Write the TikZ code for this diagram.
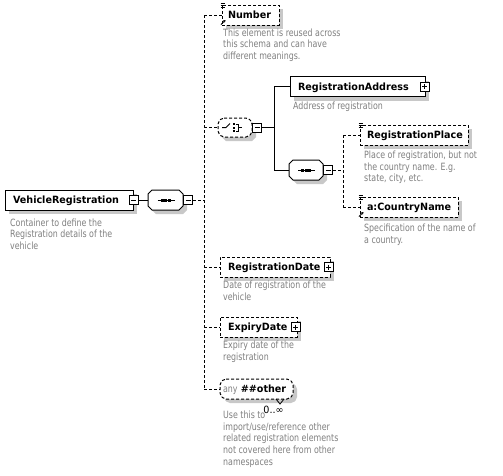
\documentclass[tikz,border=0pt]{standalone}
\usepackage{fontspec}
\usetikzlibrary{calc,shadows,arrows.meta,backgrounds}
\newfontfamily\descfont[FakeStretch=0.79]{DejaVu Sans}
\newfontfamily\namefont[FakeStretch=0.96]{DejaVu Sans}
\definecolor{shadowgray}{RGB}{200,200,200}
\definecolor{notegray}{RGB}{128,128,128}

% octagon outline around a placeholder node: #1 node, #2 corner cut, #3 offset
\newcommand\octagonpath[3]{($(#1.north west)+(#2,0)+(#3)$) -- ($(#1.north east)+(-#2,0)+(#3)$) -- ($(#1.north east)+(0,#2)+(#3)$) -- ($(#1.south east)+(0,-#2)+(#3)$) -- ($(#1.south east)+(-#2,0)+(#3)$) -- ($(#1.south west)+(#2,0)+(#3)$) -- ($(#1.south west)+(0,-#2)+(#3)$) -- ($(#1.north west)+(0,#2)+(#3)$) -- cycle}

% "global element" marks at the corners of a box
\newcommand\listmark[1]{\foreach \k in {0,1,2} \draw[line width=0.8pt] ($(#1.north west)+(-1,-1.5+2.3*\k)$) -- ++(4.5,0);}
\newcommand\refmark[1]{\draw[line width=0.8pt, -{Stealth[length=2.5pt,width=3pt]}] ($(#1.south west)+(-0.5,-1)$) -- ++(4.5,-4.5);}

% compositor icons
\newcommand\seqicon[1]{%
  \draw[line width=1pt] ($(#1.center)+(-8,0)$) -- ($(#1.center)+(9,0)$);
  \foreach \d in {-3.5,0,3.5} \fill ($(#1.center)+(\d-1.5,-1.5)$) rectangle ++(3,3);}
\newcommand\choiceicon[1]{%
  \draw[line width=1pt] ($(#1.center)+(-13,0)$) -- ($(#1.center)+(-9,0)$) -- ($(#1.center)+(-5,-4)$);
  \foreach \d in {-3.5,0,3.5} \fill ($(#1.center)+(-2,\d-1)$) rectangle ++(2,2);
  \draw[line width=1pt] ($(#1.center)+(0.5,-3.5)$) -- ($(#1.center)+(3,-3.5)$) -- ($(#1.center)+(3,3.5)$) -- ($(#1.center)+(0.5,3.5)$);
  \draw[line width=1pt] ($(#1.center)+(3,0)$) -- ($(#1.center)+(7,0)$);}

\tikzset{
  wire/.style={line width=1pt},
  dwire/.style={wire, dash pattern=on 3pt off 2pt},
  elem/.style={rectangle, draw, line width=1pt, fill=white, minimum height=20pt,
    inner ysep=0pt, inner xsep=8pt, align=left, text height=8pt, text depth=1pt,
    font={\namefont\bfseries\fontsize{10}{12}\selectfont},
    drop shadow={shadow xshift=4pt, shadow yshift=-4pt, opacity=1, fill=shadowgray}},
  optelem/.style={elem, dash pattern=on 3pt off 2pt},
  slot/.style={rectangle, inner sep=0pt, outer sep=0pt},
  btn/.style={rectangle, draw, line width=1pt, fill=white, minimum size=9pt, inner sep=0pt},
  minusbtn/.style={btn, path picture={\draw[line width=1pt] ($(path picture bounding box.center)+(-2.5,0)$) -- ($(path picture bounding box.center)+(2.5,0)$);}},
  plusbtn/.style={btn, path picture={\draw[line width=1pt] ($(path picture bounding box.center)+(-2.5,0)$) -- ($(path picture bounding box.center)+(2.5,0)$) ($(path picture bounding box.center)+(0,-2.5)$) -- ($(path picture bounding box.center)+(0,2.5)$);}},
  % multi-line notes are placed by the baseline of their last line
  note/.style={font={\descfont\fontsize{10}{11.7}\selectfont}, text=notegray, align=left, inner sep=0pt, anchor=base west},
}

\begin{document}
\begin{tikzpicture}[x=1pt,y=-1pt]
\useasboundingbox (0,0) rectangle (503,475);

% element boxes
\node[elem, text width=112pt] (vr) at (69,200) {VehicleRegistration};
\node[optelem, inner xsep=6pt, text width=45pt] (number) at (250.5,15) {Number};
\node[elem, text width=119pt] (regaddr) at (357.5,86.5) {RegistrationAddress};
\node[optelem, inner xsep=7pt, text width=94pt] (regplace) at (414,135) {RegistrationPlace};
\node[optelem, inner xsep=7pt, text width=84pt] (country) at (409,207) {a:CountryName};
\node[optelem, text width=94pt] (regdate) at (275,267) {RegistrationDate};
\node[optelem, text width=61pt] (expiry) at (258.5,327) {ExpiryDate};

% compositor and wildcard places
\node[slot, minimum width=35pt, minimum height=20pt] (seq1) at (165.5,200) {};
\node[slot, minimum width=34pt, minimum height=19pt] (choice) at (235,127.5) {};
\node[slot, minimum width=34pt, minimum height=20pt] (seq2) at (306,170) {};
\node[slot, minimum width=73pt, minimum height=20pt, inner xsep=3pt, text width=67pt,
  align=left, text height=8pt, text depth=1pt,
  font={\namefont\bfseries\fontsize{10}{12}\selectfont}] (any) at (256.5,389)
  {{\descfont\mdseries\color{notegray}any} \#\#other};
\coordinate (notch) at ($(any.south)+(23.5,0)$);
\node[font={\namefont\fontsize{10}{12}\selectfont}, inner sep=0pt, anchor=base] (anymult) at (273.5,413) {0..∞};

% trunks
\coordinate (t1a) at (204,15);   \coordinate (t1b) at (204,389);
\coordinate (t2a) at (274,86.5); \coordinate (t2b) at (274,170);
\coordinate (t3a) at (343,135);  \coordinate (t3b) at (343,207);

% expand/collapse buttons
\node[minusbtn] (vrbtn) at (vr.east) {};
\node[minusbtn, anchor=west] (seq1btn) at (seq1.east) {};
\node[minusbtn, anchor=west] (choicebtn) at (choice.east) {};
\node[plusbtn] (regaddrbtn) at ($(regaddr.east)+(-1,0)$) {};
\node[minusbtn, anchor=west] (seq2btn) at (seq2.east) {};
\node[plusbtn] (regdatebtn) at ($(regdate.east)+(-2,0)$) {};
\node[plusbtn] (expirybtn) at ($(expiry.east)+(-2,0)$) {};

% icons
\seqicon{seq1}
\seqicon{seq2}
\choiceicon{choice}
\listmark{number} \refmark{number}
\listmark{regplace}
\listmark{country} \refmark{country}

% annotations
\node[note] (vrnote) at (10,249.4) {Container to define the\\Registration details of the\\vehicle};
\node[note] (numbernote) at (223,59.4) {This element is reused across\\this schema and can have\\different meanings.};
\node[note] (regaddrnote) at (293,109) {Address of registration};
\node[note] (regplacenote) at (364,181.7) {Place of registration, but not\\the country name. E.g.\\state, city, etc.};
\node[note] (countrynote) at (364,243.4) {Specification of the name of\\a country.};
\node[note] (regdatenote) at (223,300) {Date of registration of the\\vehicle};
\node[note] (expirynote) at (223,360) {Expiry date of the\\registration};
\node[note] (anynote) at (223,465.1) {Use this to\\import/use/reference other\\related registration elements\\not covered here from other\\namespaces};

\begin{pgfonlayer}{background}
  \fill[white] (0,0) rectangle (503,475);
  % compositor shapes
  \fill[shadowgray] \octagonpath{seq1}{4}{4,4};
  \fill[shadowgray] \octagonpath{choice}{4}{4,4};
  \fill[shadowgray] \octagonpath{seq2}{4}{4,4};
  \fill[shadowgray, rounded corners=2pt] \octagonpath{any}{4}{4,4};
  \draw[wire, fill=white] \octagonpath{seq1}{4}{0,0};
  \draw[dwire, fill=white, rounded corners=2pt] \octagonpath{choice}{4}{0,0};
  \draw[wire, fill=white] \octagonpath{seq2}{4}{0,0};
  \draw[dwire, fill=white, rounded corners=2pt] \octagonpath{any}{4}{0,0};
  \draw[line width=0.8pt] ($(notch)+(-4,0)$) -- ($(notch)+(0,5)$) -- ($(notch)+(4,0)$);
  % connectors
  \draw[wire] (vrbtn.east) -- (seq1.west);
  \draw[dwire] (seq1btn.east) -- (seq1btn.east -| t1a);
  \draw[dwire] (t1a) -- (t1b);
  \draw[dwire] (number.west -| t1a) -- (number.west);
  \draw[dwire] (choice.west -| t1a) -- (choice.west);
  \draw[dwire] (regdate.west -| t1a) -- (regdate.west);
  \draw[dwire] (expiry.west -| t1a) -- (expiry.west);
  \draw[dwire] (any.west -| t1a) -- (any.west);
  \draw[wire] (choicebtn.east) -- (choicebtn.east -| t2a);
  \draw[wire] (t2a) -- (t2b);
  \draw[wire] (regaddr.west -| t2a) -- (regaddr.west);
  \draw[wire] (seq2.west -| t2a) -- (seq2.west);
  \draw[dwire] (seq2btn.east) -- (seq2btn.east -| t3a);
  \draw[dwire] (t3a) -- (t3b);
  \draw[dwire] (regplace.west -| t3a) -- (regplace.west);
  \draw[dwire] (country.west -| t3a) -- (country.west);
\end{pgfonlayer}
\end{tikzpicture}
\end{document}
